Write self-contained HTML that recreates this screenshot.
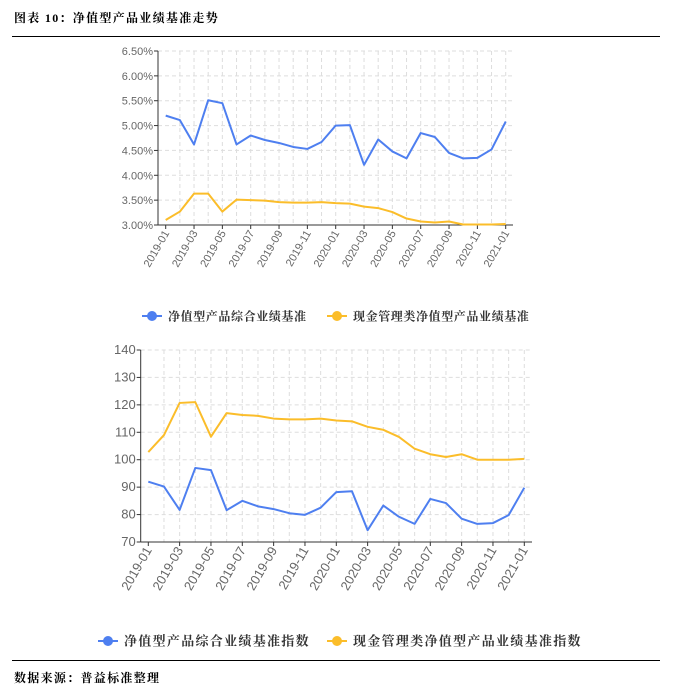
<!DOCTYPE html>
<html><head><meta charset="utf-8"><style>
body{margin:0;background:#fff;width:674px;height:690px;overflow:hidden;font-family:"Liberation Sans","Noto Sans CJK SC",sans-serif;}
.t{position:absolute;font-family:"Liberation Serif","Noto Serif CJK SC",serif;font-weight:bold;font-size:12px;color:#000;letter-spacing:1.3px;}
.hr{position:absolute;left:12px;width:648px;height:1px;background:#000;}
</style></head><body>
<div class="t" style="left:14px;top:9px;">图表 10：净值型产品业绩基准走势</div>
<div class="hr" style="top:36px"></div>
<svg id="svg" width="674" height="690" style="position:absolute;left:0;top:0"></svg>
<div class="hr" style="top:660px"></div>
<div class="t" style="left:14px;top:669px;">数据来源：普益标准整理</div>
<script>
const months=["2019-01","2019-02","2019-03","2019-04","2019-05","2019-06","2019-07","2019-08","2019-09","2019-10","2019-11","2019-12","2020-01","2020-02","2020-03","2020-04","2020-05","2020-06","2020-07","2020-08","2020-09","2020-10","2020-11","2020-12","2021-01"];
const topBlue=[5.20,5.11,4.62,5.51,5.45,4.62,4.80,4.71,4.65,4.57,4.53,4.67,5.00,5.01,4.21,4.72,4.48,4.34,4.85,4.77,4.45,4.34,4.35,4.52,5.08];
const topYellow=[3.10,3.27,3.63,3.63,3.27,3.51,3.50,3.49,3.46,3.45,3.45,3.46,3.44,3.43,3.37,3.34,3.26,3.13,3.07,3.05,3.07,3.01,3.01,3.01,3.02];
const topTicks=[3.0,3.5,4.0,4.5,5.0,5.5,6.0,6.5];
const botBlue=[92,90.2,81.7,97,96.2,81.6,85,83,82,80.5,79.9,82.5,88.2,88.5,74.3,83.3,79.2,76.6,85.7,84.2,78.5,76.6,76.9,79.8,89.8];
const botYellow=[102.8,109,120.7,121,108.4,117,116.3,116,115,114.7,114.7,115,114.3,114,112,110.9,108.3,104,102,101,102,100,100,100,100.3];
const botTicks=[70,80,90,100,110,120,130,140];
const NS="http://www.w3.org/2000/svg",svg=document.getElementById('svg');
function mk(tag,attrs,parent){const e=document.createElementNS(NS,tag);for(const k in attrs)e.setAttribute(k,attrs[k]);(parent||svg).appendChild(e);return e;}
function chart(o){
  const g=mk('g',{});
  
  
  const xs=i=>o.x0+(o.x1-o.x0)*i/(months.length-1);
  const ys=v=>o.yb+(o.yt-o.yb)*(v-o.min)/(o.max-o.min);
  months.forEach((m,i)=>{
    if(i>0){const l=mk('line',{x1:xs(i),x2:xs(i),y1:o.yt,y2:o.yb,stroke:'#ddd','stroke-dasharray':'4,3'},g);
    }
    if(i%2===0){
      mk('line',{x1:xs(i),x2:xs(i),y1:o.yb,y2:o.yb+4,stroke:'#333'},g);
      const t=mk('text',{x:0,y:0,transform:`translate(${xs(i)+4},${o.yb+8}) rotate(-60)`,'text-anchor':'end','font-size':o.fs,fill:'#666'},g);
      t.textContent=m;
      
    }
  });
  o.ticks.forEach(v=>{
    if(v!==o.min){const l=mk('line',{x1:o.ax,x2:o.axEnd,y1:ys(v),y2:ys(v),stroke:'#ddd','stroke-dasharray':'4,3'},g);
    }
    mk('line',{x1:o.ax-4,x2:o.ax,y1:ys(v),y2:ys(v),stroke:'#333'},g);
    const t=mk('text',{x:o.ax-5,y:ys(v)+4,'text-anchor':'end','font-size':o.fs,fill:'#666'},g);
    t.textContent=o.fmt(v);
    
  });
  mk('line',{x1:o.ax,x2:o.ax,y1:o.yt,y2:o.yb,stroke:'#333'},g);
  mk('line',{x1:o.ax,x2:o.axEnd,y1:o.yb,y2:o.yb,stroke:'#333'},g);
  [[o.s1,'#4e7ff0','blue'],[o.s2,'#fbbd2a','yellow']].forEach(([s,c,n])=>{
    const p=mk('polyline',{points:s.map((v,i)=>xs(i)+','+ys(v)).join(' '),fill:'none',stroke:c,'stroke-width':2,'stroke-linejoin':'round'},g);
    
  });
  o.legend.forEach(([lx,txt,c])=>{
    const lg=mk('g',{},g);
    
    mk('line',{x1:lx-10,x2:lx+10,y1:o.ly,y2:o.ly,stroke:c,'stroke-width':2},lg);
    mk('circle',{cx:lx,cy:o.ly,r:5,fill:c},lg);
    const t=mk('text',{x:lx+16,y:o.ly+4.5,'font-size':o.lfs,fill:'#333','font-weight':'bold','letter-spacing':o.ls,'font-family':'"Liberation Serif","Noto Serif CJK SC",serif'},lg);
    t.textContent=txt;
  });
}
chart({name:'top-chart',x0:165.7,x1:505.7,ax:158,axEnd:513,yt:51,yb:225,min:3,max:6.5,ticks:topTicks,fmt:v=>v.toFixed(2)+'%',fs:11,s1:topBlue,s2:topYellow,ly:316,lfs:12,ls:0.6,
  legend:[[152,'净值型产品综合业绩基准','#4e7ff0'],[337,'现金管理类净值型产品业绩基准','#fbbd2a']]});
chart({name:'bottom-chart',x0:148.3,x1:524.3,ax:140.7,axEnd:532,yt:350,yb:542,min:70,max:140,ticks:botTicks,fmt:v=>String(v),fs:13,s1:botBlue,s2:botYellow,ly:641,lfs:13,ls:1.3,
  legend:[[108,'净值型产品综合业绩基准指数','#4e7ff0'],[337,'现金管理类净值型产品业绩基准指数','#fbbd2a']]});
</script>
</body></html>
